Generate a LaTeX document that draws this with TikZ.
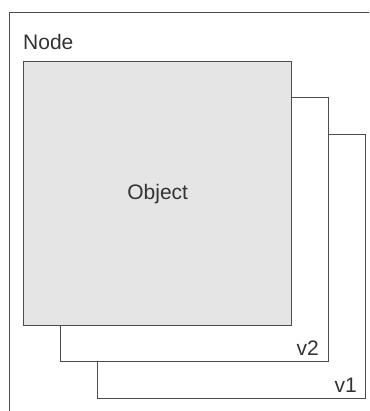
\documentclass[tikz,border=0pt]{standalone}
\usepackage{fontspec}
\setmainfont{Liberation Sans}
\begin{document}
\begin{tikzpicture}[x=1pt,y=-1pt,
  frame/.style={draw=black!70, line width=1.4pt, inner sep=0pt, anchor=north west,
                minimum width=268pt, minimum height=264pt, fill=white},
  lbl/.style={inner sep=0pt, text=black!80, font=\fontsize{21}{25}\selectfont}]
  \useasboundingbox[fill=white] (0,0) rectangle (369,411);
  \begin{scope}
    \clip (0,0) rectangle (369,411);
    % enclosing node frame, running off the right and bottom
    \node[draw=black!70, line width=1.4pt, inner sep=0pt, anchor=north west,
          minimum width=380pt, minimum height=420pt] (outer) at (9,12) {};
  \end{scope}
  % stacked versions, back to front
  \node[frame] (v1) at (97,134) {};
  \node[frame] (v2) at (60,97) {};
  \node[frame, fill=black!10] (obj) at (23,61) {};
  % labels
  \node[lbl, anchor=base west] (nodelbl) at (23,50) {Node};
  \node[lbl] (objlbl) at (obj.center) {Object};
  \node[lbl, anchor=base east] (v2lbl) at (319,355) {v2};
  \node[lbl, anchor=base east] (v1lbl) at (357,392) {v1};
\end{tikzpicture}
\end{document}
